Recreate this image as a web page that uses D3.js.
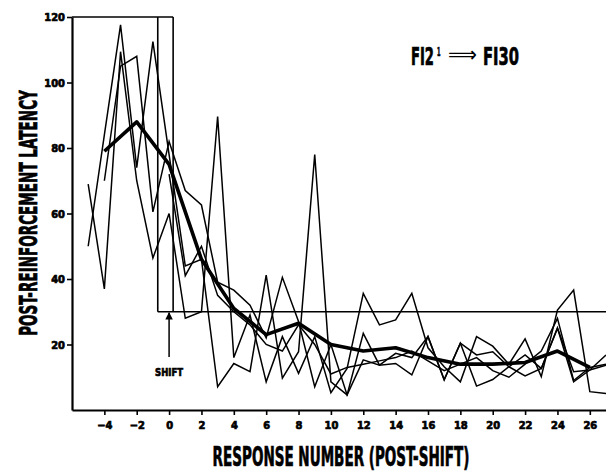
<!DOCTYPE html>
<html>
<head>
<meta charset="utf-8">
<script src="https://cdn.jsdelivr.net/npm/d3@7"></script>
<style>
  body { margin: 0; background: #fff; }
  text { font-family: "Liberation Sans Narrow", "DejaVu Sans Condensed", sans-serif; font-weight: bold; fill: #000; }
  .heavy { stroke: #000; stroke-width: 0.7px; }
</style>
</head>
<body>
<script>
// response numbers -5 .. 27
var responses = d3.range(-5, 28);

// individual subjects (thin lines)
var subjA = [50, 84, 117.6, 74, 112.5, 78, 44, 46, 7.1, 14.2, 11.7, 41.2, 9.7, 17.8, 78, 8.6, 4.6, 23.4, 13.7, 14.2, 10.7, 22.4, 9.2, 20.4, 7.3, 9.3, 13.2, 10.4, 12.7, 25, 8.6, 12.2, 16.8];
var subjB = [69, 37, 109.4, 70, 46.4, 60, 28, 30, 89.6, 16, 29, 8.6, 22.4, 11.2, 22.4, 5.3, 12.7, 35.6, 26, 27.5, 35.6, 19, 13.2, 8.6, 22.4, 19.5, 14, 21.7, 10.2, 30.5, 36.6, 5.6, 5];
var subjC = [null, 70, 105, 108, 60.5, 82, 67, 62.6, 39, 36.6, 32, 22, 40.5, 27, 7.1, 20, 4.6, 15.3, 13.7, 17.3, 16, 22.4, 9.2, 20.4, 16.8, 17.8, 13.2, 16.8, 12.7, 25, 11.7, 12.2, 13.7];
var subjD = [null, null, null, null, null, 72, 41, 50, 35, 30, 26, 20, 18, 26, 20, 11, 13, 14, 15, 16, 18, 15, 12, 14, 16, 12, 10, 14, 18, 28, 9, 13, 14];

// group mean (thick line), every second response
var meanX = [-4, -2, 0, 2, 4, 6, 8, 10, 12, 14, 16, 18, 20, 22, 24, 26];
var meanY = [79, 88, 75, 46, 31, 23, 26.5, 20, 18, 19, 16, 14, 14, 14.5, 18, 13];

var xTicks = d3.range(-4, 27, 2);
var yTicks = [20, 40, 60, 80, 100, 120];

// schedule frame: FI 120 before the shift, FI 30 after it
var schedOld = 120, schedNew = 30;
var shiftA = -0.7, shiftB = 0.25;

var W = 606, H = 472;
var svg = d3.select("body").append("svg")
  .attr("width", W)
  .attr("height", H);

var x = d3.scaleLinear().domain([-6, 27]).range([72, 606]);
var y = d3.scaleLinear().domain([0, 120]).range([410, 17]);

var line = d3.line()
  .defined(function(d){ return d[1] != null; })
  .x(function(d){ return x(d[0]); })
  .y(function(d){ return y(d[1]); });

// schedule lines
var sched = [
  [[-6, schedOld], [shiftB, schedOld]],
  [[shiftA, schedOld], [shiftA, schedNew]],
  [[shiftB, schedOld], [shiftB, schedNew]],
  [[shiftA, schedNew], [27.2, schedNew]]
];
svg.selectAll(".sched").data(sched).enter().append("path")
  .attr("class", "sched")
  .attr("d", line)
  .attr("fill", "none")
  .attr("stroke", "#000")
  .attr("stroke-width", 1.6);

// thin subject lines
[subjA, subjB, subjC, subjD].forEach(function(s){
  svg.append("path")
    .datum(responses.map(function(r, i){ return [r, s[i]]; }))
    .attr("d", line)
    .attr("fill", "none")
    .attr("stroke", "#000")
    .attr("stroke-width", 1.5)
    .attr("stroke-linejoin", "miter");
});

// mean line
svg.append("path")
  .datum(meanX.map(function(r, i){ return [r, meanY[i]]; }))
  .attr("d", line)
  .attr("fill", "none")
  .attr("stroke", "#000")
  .attr("stroke-width", 3.6)
  .attr("stroke-linejoin", "round");

// axes
var yAxis = svg.append("g")
  .attr("transform", "translate(" + x(-6) + ",0)")
  .call(d3.axisLeft(y).tickValues(yTicks).tickSize(5).tickSizeOuter(0).tickPadding(2));
var xAxis = svg.append("g")
  .attr("transform", "translate(0," + y(0) + ")")
  .call(d3.axisBottom(x).tickValues(xTicks).tickSize(5).tickSizeOuter(0).tickPadding(6)
    .tickFormat(function(d){ return d < 0 ? "\u2212" + (-d) : d; }));

[yAxis, xAxis].forEach(function(g){
  g.select(".domain").attr("stroke-width", 2.2);
  g.selectAll(".tick line").attr("stroke-width", 1.6);
  g.selectAll(".tick text")
    .attr("class", "heavy")
    .style("font-family", "'Liberation Sans Narrow', 'DejaVu Sans Condensed', sans-serif")
    .style("font-weight", "bold")
    .style("font-size", "11px");
});

// squeeze a text horizontally so it spans `width` px
function fit(t, tx, ty, width, rot) {
  var s = width / t.node().getComputedTextLength();
  t.attr("transform", "translate(" + tx + "," + ty + ")" + (rot ? " rotate(" + rot + ")" : "") + " scale(" + s + ",1)");
  return t;
}

// shift arrow and label
svg.append("defs").append("marker")
  .attr("id", "head")
  .attr("viewBox", "0 0 10 10")
  .attr("refX", 9).attr("refY", 5)
  .attr("markerWidth", 5).attr("markerHeight", 6)
  .attr("orient", "auto")
  .append("path").attr("d", "M0,0L10,5L0,10z").attr("fill", "#000");

svg.append("line")
  .attr("x1", x(0)).attr("x2", x(0))
  .attr("y1", 357).attr("y2", y(schedNew) + 1)
  .attr("stroke", "#000").attr("stroke-width", 1.5)
  .attr("marker-end", "url(#head)");

fit(svg.append("text").attr("class", "heavy")
  .attr("text-anchor", "middle")
  .style("font-size", "11px").text("SHIFT"), x(0), 376, 28);

// title
fit(svg.append("text").attr("class", "heavy")
  .style("font-size", "25px").text("FI2"), 411, 65, 23);
fit(svg.append("text").attr("class", "heavy")
  .style("font-size", "12px").text("1"), 437, 56, 3.5);
fit(svg.append("text")
  .style("font-family", "'DejaVu Sans', sans-serif").style("font-weight", "normal")
  .style("font-size", "22px").text("\u27F9"), 448, 62, 29);
fit(svg.append("text").attr("class", "heavy")
  .style("font-size", "25px").text("FI30"), 483, 65, 36);

// axis titles
fit(svg.append("text").attr("class", "heavy")
  .attr("text-anchor", "middle")
  .style("font-size", "24px")
  .text("POST-REINFORCEMENT LATENCY"), 37, 213, 246, -90);

fit(svg.append("text").attr("class", "heavy")
  .attr("text-anchor", "middle")
  .style("font-size", "26px")
  .text("RESPONSE NUMBER (POST-SHIFT)"), 341, 466, 257);
</script>
</body>
</html>
